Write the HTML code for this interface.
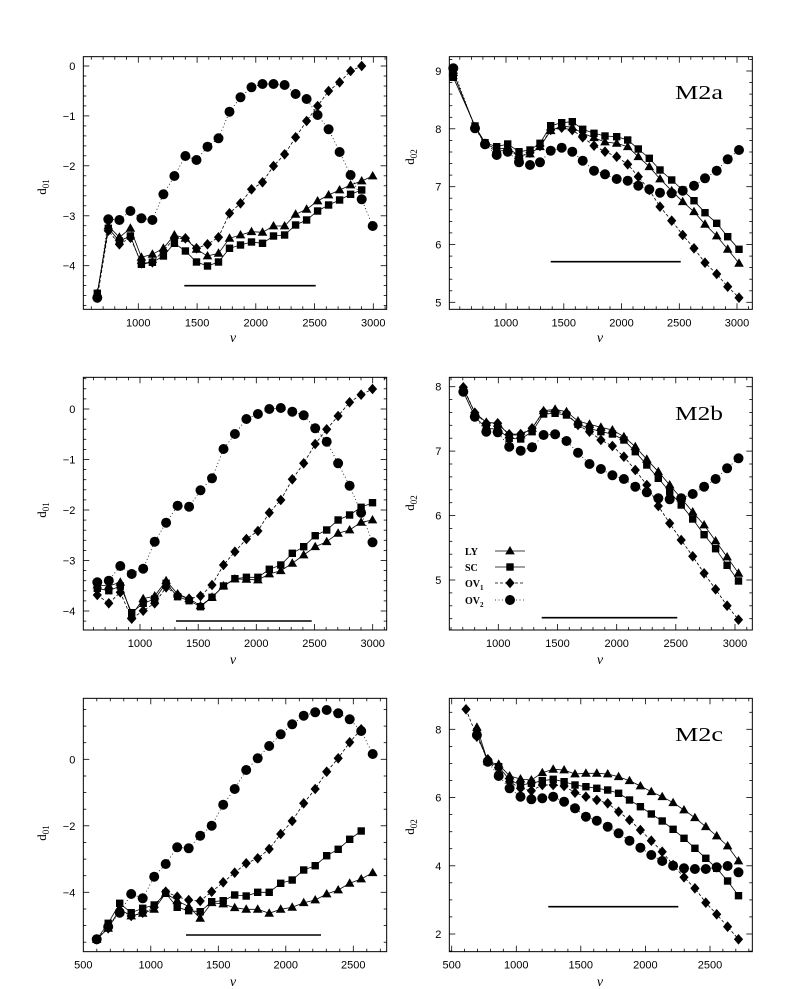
<!DOCTYPE html>
<html><head><meta charset="utf-8"><style>
html,body{margin:0;padding:0;background:#fff;width:794px;height:989px;overflow:hidden}
svg{display:block}
text{font-family:"Liberation Sans",sans-serif;fill:#000}
</style></head><body>
<svg id="s" width="794" height="989" viewBox="0 0 794 989" xmlns="http://www.w3.org/2000/svg"></svg>
<script>
var NS="http://www.w3.org/2000/svg",S=document.getElementById('s'),out=[];
function seq(a,st,n){var r=[];for(var i=0;i<n;i++)r.push(a+st*i);return r;}
var P=[
{ox:0,oy:0,box:[250,170,1160,928],xm:[1000,415,3000,1120],ym:[0,198,-4,797],xmaj:500,xmin:100,ymaj:1,ymin:0.2,
 ylabs:[0,-1,-2,-3,-4],xlabs:[1000,1500,2000,2500,3000],yl:"01",lab:[42,187],nu:[233,338],bar:[553,947,857],
 xs:seq(292,33.04,26),
 C:[893,658,660,633,655,660,583,528,468,480,440,415,335,292,262,252,252,255,282,297,345,388,456,525,598,678],
 D:[893,692,733,713,790,787,752,715,715,745,733,712,640,610,568,547,498,463,412,363,318,273,247,213,198],
 T:[880,678,712,685,772,763,745,705,715,748,768,760,715,705,695,697,678,678,643,628,603,585,570,555,543,528],
 Q:[880,685,723,708,793,787,768,730,753,786,798,786,745,735,726,730,708,705,675,660,633,615,600,583,570]},
{ox:400,oy:0,box:[148,170,1057,928],xm:[1000,318,3000,1011],ym:[9,213,5,907],xmaj:500,xmin:100,ymaj:1,ymin:0.2,
 ylabs:[9,8,7,6,5],xlabs:[1000,1500,2000,2500,3000],yl:"02",lab:[410,157],nu:[600,338],bar:[452,842,785],m2:["M2a",92],
 xs:[160,225,255,290,323,357,390,420,452,485,517,548,582,615,650,683,715,748,780,815,848,882,915,950,983,1017],
 C:[205,385,433,465,455,487,495,487,452,443,455,482,512,523,537,542,557,568,578,580,572,557,535,512,478,450],
 Q:[232,378,428,440,432,455,450,430,377,368,365,388,400,408,410,420,447,475,510,540,570,602,638,670,710,748],
 T:[218,380,430,448,443,468,462,440,392,378,382,400,413,426,430,440,470,500,537,572,605,635,673,708,748,790],
 D:[220,382,432,455,448,470,458,438,390,383,390,412,437,455,470,493,530,570,620,662,705,745,788,822,860,893]},
{ox:0,oy:340,box:[250,112,1160,870],xm:[1000,420,3000,1118],ym:[0,207,-4,813],xmaj:500,xmin:100,ymaj:1,ymin:0.2,
 ylabs:[0,-1,-2,-3,-4],xlabs:[1000,1500,2000,2500,3000],yl:"01",lab:[42,510],nu:[233,660],bar:[528,935,843],
 xs:seq(292,34.4,25),
 C:[727,722,678,702,686,605,548,497,500,451,415,327,282,237,222,207,204,215,226,265,305,370,437,518,607],
 D:[765,790,757,836,812,790,742,765,776,768,735,675,635,597,573,518,480,418,370,312,268,228,187,164,147],
 T:[735,738,727,826,776,768,722,762,776,797,772,738,717,718,720,702,692,670,645,620,605,580,570,547,540],
 Q:[745,752,738,818,790,777,730,770,782,800,772,738,716,712,712,688,675,640,620,587,570,540,525,502,488]},
{ox:400,oy:340,box:[148,112,1057,870],xm:[1000,295,3000,1005],ym:[8,140,5,720],xmaj:500,xmin:100,ymaj:1,ymin:0.2,
 ylabs:[8,7,6,5],xlabs:[1000,1500,2000,2500,3000],yl:"02",lab:[410,503],nu:[600,660],bar:[425,832,833],m2:["M2b",413],legend:true,
 xs:seq(190,34.4,25),
 C:[65,140,185,187,230,242,232,195,193,213,248,282,297,316,327,350,367,385,388,385,372,350,327,295,265].map(function(v){return v+90}),
 T:[55,128,157,160,195,195,175,122,118,125,153,163,172,180,200,230,268,305,345,385,426,465,513,561,610].map(function(v){return v+90}),
 Q:[65,140,175,178,205,207,185,132,130,135,163,175,185,192,210,245,285,325,365,405,447,494,536,586,633].map(function(v){return v+90}),
 D:[52,128,160,160,193,192,175,125,123,130,165,185,210,228,260,300,345,408,460,510,559,610,658,707,749].map(function(v){return v+90})},
{ox:0,oy:670,box:[250,85,1160,845],xm:[500,250,2500,1060],ym:[0,268,-4,667],xmaj:500,xmin:100,ymaj:2,ymin:0.5,
 ylabs:[0,-2,-4],xlabs:[500,1000,1500,2000,2500],yl:"01",lab:[42,833],nu:[233,982],bar:[558,963,795],
 xs:seq(290,34.5,25),
 C:[808,770,728,672,685,620,582,532,535,497,467,404,357,300,265,228,193,163,137,127,120,130,148,183,252],
 D:[808,775,720,738,728,712,665,680,690,693,665,637,608,580,565,537,492,453,400,357,305,265,217,178],
 Q:[808,760,700,728,715,705,670,712,722,725,695,692,675,678,667,667,640,630,600,587,557,538,508,483],
 T:[808,775,717,738,730,718,670,692,710,745,698,702,713,718,718,730,718,712,698,690,672,660,640,627,608]},
{ox:400,oy:670,box:[148,85,1057,845],xm:[500,155,2500,930],ym:[8,178,2,792],xmaj:500,xmin:100,ymaj:2,ymin:0.5,
 ylabs:[8,6,4,2],xlabs:[500,1000,1500,2000,2500],yl:"02",lab:[410,827],nu:[600,982],bar:[445,835,710],m2:["M2c",734],
 xs:seq(198,32.7,26),
 C:[null,195,275,318,355,380,388,385,380,395,415,440,452,470,490,512,533,555,573,587,595,597,597,592,588,607],
 T:[null,172,275,283,318,327,330,308,298,300,312,310,310,312,320,332,348,365,380,398,420,443,470,498,528,573],
 Q:[null,190,275,290,330,345,340,332,328,335,345,350,355,360,370,390,410,432,453,478,505,535,565,595,633,677],
 D:[118,200,268,310,335,355,362,345,345,348,368,380,390,400,425,450,480,512,545,585,622,655,698,733,770,808]}
];
function L(x1,y1,x2,y2,w,da){out.push('<line x1="'+x1.toFixed(1)+'" y1="'+y1.toFixed(1)+'" x2="'+x2.toFixed(1)+'" y2="'+y2.toFixed(1)+'" stroke="#000" stroke-width="'+(w||1)+'"'+(da?' stroke-dasharray="'+da+'"':'')+'/>');}
function mk(t,x,y){
 if(t=='C')out.push('<circle cx="'+x.toFixed(1)+'" cy="'+y.toFixed(1)+'" r="5"/>');
 else if(t=='Q')out.push('<rect x="'+(x-3.7).toFixed(1)+'" y="'+(y-3.7).toFixed(1)+'" width="7.4" height="7.4"/>');
 else if(t=='T')out.push('<polygon points="'+x.toFixed(1)+','+(y-5).toFixed(1)+' '+(x+4.8).toFixed(1)+','+(y+3.4).toFixed(1)+' '+(x-4.8).toFixed(1)+','+(y+3.4).toFixed(1)+'"/>');
 else out.push('<polygon points="'+x.toFixed(1)+','+(y-5.3).toFixed(1)+' '+(x+4.6).toFixed(1)+','+y.toFixed(1)+' '+x.toFixed(1)+','+(y+5.3).toFixed(1)+' '+(x-4.6).toFixed(1)+','+y.toFixed(1)+'"/>');
}
var sty={T:[0.8,''],Q:[0.8,''],D:[0.8,'3,2'],C:[0.8,'1,2.5']};
P.forEach(function(p){
 var X=function(z){return p.ox+z/3},Y=function(z){return p.oy+z/3};
 var fx=function(f){return X(p.xm[1]+(f-p.xm[0])*(p.xm[3]-p.xm[1])/(p.xm[2]-p.xm[0]))};
 var fy=function(v){return Y(p.ym[1]+(v-p.ym[0])*(p.ym[3]-p.ym[1])/(p.ym[2]-p.ym[0]))};
 var x0=X(p.box[0]),y0=Y(p.box[1]),x1=X(p.box[2]),y1=Y(p.box[3]);
 out.push('<rect x="'+x0+'" y="'+y0+'" width="'+(x1-x0)+'" height="'+(y1-y0)+'" fill="none" stroke="#000" stroke-width="1"/>');
 for(var f=0;f<=4000;f+=p.xmin){var x=fx(f);if(x<=x0+0.5||x>=x1-0.5)continue;var mj=(f%p.xmaj==0);var l=mj?6:3;L(x,y1,x,y1-l,0.8);L(x,y0,x,y0+l,0.8);}
 for(var i=-200;i<=200;i++){var v=i*p.ymin;var y=fy(v);if(y<=y0+0.5||y>=y1-0.5)continue;var mj=Math.abs(v/p.ymaj-Math.round(v/p.ymaj))<1e-6;var l=mj?6:3;L(x0,y,x0+l,y,0.8);L(x1,y,x1-l,y,0.8);}
 p.xlabs.forEach(function(f){out.push('<text x="'+fx(f).toFixed(1)+'" y="'+(y1+17)+'" font-size="11" text-anchor="middle">'+f+'</text>');});
 p.ylabs.forEach(function(v){out.push('<text x="'+(x0-8)+'" y="'+(fy(v)+4).toFixed(1)+'" font-size="11" text-anchor="end">'+(v<0?'\u2212'+(-v):v)+'</text>');});
 out.push('<text transform="translate('+(p.lab[0]+4)+','+p.lab[1]+') rotate(-90)" font-size="13" font-family="Liberation Serif,serif" text-anchor="middle" style="font-family:\'Liberation Serif\',serif">d<tspan font-size="9" dy="3">'+p.yl+'</tspan></text>');
 out.push('<text x="'+p.nu[0]+'" y="'+(p.nu[1]+4)+'" font-size="14" text-anchor="middle" font-style="italic" style="font-family:\'Liberation Serif\',serif">&#957;</text>');
 L(X(p.bar[0]),Y(p.bar[2]),X(p.bar[1]),Y(p.bar[2]),1.6);
 ['C','D','Q','T'].forEach(function(t){
  var ys=p[t],pts=[];
  for(var k=0;k<ys.length;k++){if(ys[k]==null)continue;pts.push([X(p.xs[k]),Y(ys[k])]);}
  out.push('<polyline fill="none" stroke="#000" stroke-width="'+sty[t][0]+'"'+(sty[t][1]?' stroke-dasharray="'+sty[t][1]+'"':'')+' points="'+pts.map(function(q){return q[0].toFixed(1)+','+q[1].toFixed(1)}).join(' ')+'"/>');
  pts.forEach(function(q){mk(t,q[0],q[1]);});
 });
 if(p.m2)out.push('<text x="675" y="'+(p.m2[1]+7)+'" font-size="20" textLength="48" lengthAdjust="spacingAndGlyphs" style="font-family:\'Liberation Serif\',serif">'+p.m2[0]+'</text>');
 if(p.legend){
  var items=[['LY','T',551,''],['SC','Q',567,''],['OV','D',583,'1'],['OV','C',600,'2']];
  items.forEach(function(it){
   out.push('<text x="465" y="'+(it[2]+4)+'" font-size="10" font-weight="bold" style="font-family:\'Liberation Serif\',serif">'+it[0]+(it[3]?'<tspan font-size="7" dy="3">'+it[3]+'</tspan>':'')+'</text>');
   L(495,it[2],525,it[2],0.8,sty[it[1]][1]);mk(it[1],510,it[2]);
  });
 }
});
S.innerHTML=out.join('');
</script>
</body></html>
